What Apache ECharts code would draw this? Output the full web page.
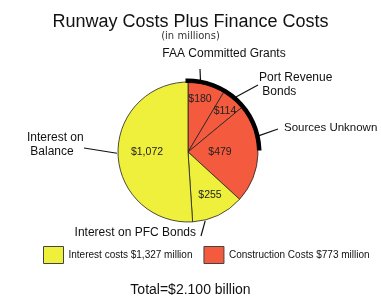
<!DOCTYPE html>
<html><head><meta charset="utf-8">
<script src="https://cdn.jsdelivr.net/npm/echarts@6/dist/echarts.min.js"></script>
<style>html,body{margin:0;padding:0;background:#fff}#c{width:381px;height:296px}</style>
</head><body><div id="c"></div>
<script>
// ---- data ----
const sliceNames = ['FAA Committed Grants', 'Port Revenue\n Bonds', 'Sources Unknown', 'Interest on PFC Bonds', 'Interest on\n Balance'];
const sliceValues = [180, 114, 479, 255, 1072];
const sliceValueLabels = ['$180', '$114', '$479', '$255', '$1,072'];
const sliceGroup = [1, 1, 1, 0, 0];
const groupNames = ['Interest costs $1,327 million', 'Construction Costs $773 million'];
const groupValues = [1327, 773];
const rimValues = [530, 1570];
const titleText = 'Runway Costs Plus Finance Costs';
const subtitleText = '(in millions)';
const totalText = 'Total=$2.100 billion';

// ---- style / layout ----
const groupColors = ['#EFF03B', '#F45A3D'];
const center = [188, 152];
const R = 70;
const valuePos = [[200, 99], [225, 111], [220, 152], [210, 195], [147, 152]];
const namePos = [
  {x: 224, y: 54, align: 'center', size: 12},
  {x: 259, y: 85, align: 'left', size: 12},
  {x: 284, y: 128, align: 'left', size: 11.5},
  {x: 196, y: 233, align: 'right', size: 12},
  {x: 27, y: 145, align: 'left', size: 12}
];
// leader line: angle on the rim (deg clockwise from top), radial offset of start, end point
const leader = [
  {a: 10, off: 2, end: [200, 69]},
  {a: 41, off: 3, end: [258, 85]},
  {a: 77, off: 3, end: [278, 129]},
  {a: 166, off: 1, end: [201, 236]},
  {a: 269, off: 1, end: [84, 148]}
];
const font = 'Liberation Sans, Arial, Helvetica, sans-serif';

function rimPoint(a, off) {
  const t = a * Math.PI / 180;
  return [center[0] + (R + off) * Math.sin(t), center[1] - (R + off) * Math.cos(t)];
}

const chart = echarts.init(document.getElementById('c'));
chart.setOption({
  animation: false,
  title: [
    {text: titleText, subtext: subtitleText, left: 'center', top: 13, padding: 0, itemGap: 0,
     textStyle: {fontFamily: font, fontSize: 18, fontWeight: 'normal', color: '#111'},
     subtextStyle: {fontFamily: 'DejaVu Sans, sans-serif', fontSize: 10, color: '#333'}},
    {text: totalText, left: 'center', top: 283, padding: 0,
     textStyle: {fontFamily: font, fontSize: 14, fontWeight: 'normal', color: '#111'}}
  ],
  legend: {
    orient: 'horizontal', left: 43, top: 246, padding: 0, width: 340, itemWidth: 20, itemHeight: 17, itemGap: 11, icon: 'rect',
    data: groupNames,
    itemStyle: {borderColor: '#444', borderWidth: 1},
    textStyle: {fontFamily: font, fontSize: 10, color: '#111'},
    selectedMode: false
  },
  series: [
    {
      type: 'pie', name: 'groups', center: center, radius: [0, 0], silent: true,
      label: {show: false}, labelLine: {show: false},
      data: groupNames.map((n, i) => ({name: n, value: groupValues[i], itemStyle: {color: groupColors[i]}}))
    },
    {
      type: 'pie', name: 'values', center: center, radius: [0, R], startAngle: 90, clockwise: true,
      silent: true, sort: null,
      itemStyle: {borderColor: '#222', borderWidth: 0.8},
      label: {show: true, position: 'inside', fontFamily: font, fontSize: 10.5, color: '#222',
              formatter: p => sliceValueLabels[p.dataIndex]},
      labelLine: {show: false},
      labelLayout: p => { const q = valuePos[p.dataIndex]; return {x: q[0], y: q[1], align: 'center', verticalAlign: 'middle'}; },
      data: sliceNames.map((n, i) => ({name: 'v' + i, value: sliceValues[i], itemStyle: {color: groupColors[sliceGroup[i]]}}))
    },
    {
      type: 'pie', name: 'rim', center: center, radius: [R - 1, R + 3.5], startAngle: 92, clockwise: true,
      silent: true, sort: null, label: {show: false}, labelLine: {show: false},
      data: rimValues.map((v, i) => ({name: 'r' + i, value: v, itemStyle: {color: i === 0 ? '#000' : 'rgba(0,0,0,0)', borderWidth: 0}}))
    },
    {
      type: 'pie', name: 'names', center: center, radius: [0, R], startAngle: 90, clockwise: true,
      silent: true, sort: null,
      itemStyle: {color: 'rgba(0,0,0,0)', borderWidth: 0},
      label: {show: true, position: 'outside', overflow: 'none', fontFamily: font, fontSize: 12, color: '#111', lineHeight: 14,
              formatter: p => sliceNames[p.dataIndex]},
      labelLine: {show: true, length: 8, length2: 0, lineStyle: {color: '#111', width: 1.2}},
      labelLayout: p => {
        const i = p.dataIndex, q = namePos[i], L = leader[i];
        const s = rimPoint(L.a, L.off);
        return {x: q.x, y: q.y, align: q.align, verticalAlign: 'middle', fontSize: q.size,
                labelLinePoints: [s, L.end, L.end]};
      },
      data: sliceNames.map((n, i) => ({name: 'n' + i, value: sliceValues[i]}))
    }
  ]
});
</script></body></html>
